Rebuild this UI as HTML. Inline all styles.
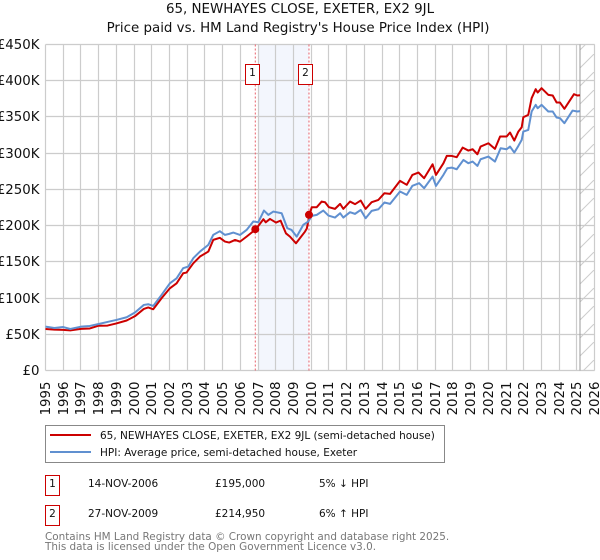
<!DOCTYPE html>
<html lang="en">
<head>
<meta charset="utf-8">
<title>65, NEWHAYES CLOSE, EXETER, EX2 9JL</title>
<style>
html,body{margin:0;padding:0;background:#fff;}
svg{display:block;}
text{font-family:"DejaVu Sans","Liberation Sans",sans-serif;fill:#111;}
.tick{font-size:13.33px;}
.title{font-size:13.4px;}
.leg{font-size:10.5px;}
.row{font-size:10.5px;}
.foot{font-size:10.4px;fill:#777;}
</style>
</head>
<body>
<svg id="chart" xmlns="http://www.w3.org/2000/svg" width="600" height="560" viewBox="0 0 600 560">
  <defs>
    <pattern id="hatch" patternUnits="userSpaceOnUse" width="18" height="18">
      <path d="M0 18L18 0" stroke="#ccc" stroke-width="1" fill="none"/>
    </pattern>
  </defs>
  <text class="title" x="300" y="13" text-anchor="middle">65, NEWHAYES CLOSE, EXETER, EX2 9JL</text>
  <text class="title" x="298" y="32" text-anchor="middle">Price paid vs. HM Land Registry's House Price Index (HPI)</text>
  <g id="plot"></g>

  <g>
    <rect x="45.5" y="425.5" width="399" height="37" fill="#fff" stroke="#888" stroke-width="1"/>
    <line x1="50" x2="91" y1="435" y2="435" stroke="#cc0000" stroke-width="2"/>
    <text class="leg" x="100" y="439">65, NEWHAYES CLOSE, EXETER, EX2 9JL (semi-detached house)</text>
    <line x1="50" x2="91" y1="452" y2="452" stroke="#6090d0" stroke-width="2"/>
    <text class="leg" x="100" y="456">HPI: Average price, semi-detached house, Exeter</text>
  </g>

  <g>
    <rect x="45.5" y="475.5" width="14" height="20" fill="#fff" stroke="#cc0000" stroke-width="1"/>
    <text class="row" x="52.5" y="487" text-anchor="middle">1</text>
    <text class="row" x="88" y="487">14-NOV-2006</text>
    <text class="row" x="215" y="487">£195,000</text>
    <text class="row" x="319" y="487">5% ↓ HPI</text>
  </g>
  <g>
    <rect x="45.5" y="505.5" width="14" height="20" fill="#fff" stroke="#cc0000" stroke-width="1"/>
    <text class="row" x="52.5" y="517" text-anchor="middle">2</text>
    <text class="row" x="88" y="517">27-NOV-2009</text>
    <text class="row" x="215" y="517">£214,950</text>
    <text class="row" x="319" y="517">6% ↑ HPI</text>
  </g>
  <text class="foot" x="45" y="540">Contains HM Land Registry data © Crown copyright and database right 2025.</text>
  <text class="foot" x="45" y="550">This data is licensed under the Open Government Licence v3.0.</text>
</svg>
<script>
const yearLabels = [1995,1996,1997,1998,1999,2000,2001,2002,2003,2004,2005,2006,2007,2008,2009,2010,2011,2012,2013,2014,2015,2016,2017,2018,2019,2020,2021,2022,2023,2024,2025,2026];
const valueTicks = [0,50,100,150,200,250,300,350,400,450];
const valueTickLabels = ["£0","£50K","£100K","£150K","£200K","£250K","£300K","£350K","£400K","£450K"];
const priceDates = [1995,1995.5,1996,1996.4,1997,1997.5,1998,1998.5,1999,1999.58,2000.05,2000.55,2000.8,2001.08,2001.55,2002.02,2002.4,2002.77,2002.96,2003.34,2003.72,2004.19,2004.47,2004.84,2005.13,2005.37,2005.7,2005.98,2006.35,2006.87,2007.3,2007.43,2007.67,2008.01,2008.27,2008.57,2008.8,2009.14,2009.65,2009.75,2009.9,2010.03,2010.31,2010.59,2010.78,2011,2011.34,2011.63,2011.81,2012.19,2012.47,2012.79,2013.07,2013.41,2013.79,2014.13,2014.45,2015.01,2015.39,2015.71,2016.05,2016.37,2016.85,2017.04,2017.46,2017.65,2017.93,2018.21,2018.55,2018.87,2019.11,2019.38,2019.56,2020,2020.37,2020.66,2021.03,2021.22,2021.46,2021.69,2021.88,2021.97,2022.25,2022.44,2022.67,2022.78,2023,2023.38,2023.63,2023.85,2024.04,2024.29,2024.83,2025.02,2025.17];
const pricePaid = [57.3,56.5,56,55.3,57.5,58,61.8,62,65,69,75,85,87,84.5,99.7,113.5,120.4,134.2,135.2,148,157.3,164.2,180.3,183.1,178,176.6,180.2,177.9,184.8,195,208.8,204.6,209.2,204.2,206.9,189.4,184.8,175.6,191.8,196,214.95,225.4,225.4,233.2,232.3,225.4,223.1,230,223.1,233.2,229.6,234.6,223.1,232.3,235.5,244.7,243.8,261.8,256.3,270,273.3,265.4,284.7,270,286,296.2,296.2,294.4,307.7,303.6,305.4,298.5,309.1,313.7,305.9,323,323,328.5,317.4,329.8,335.8,349.6,352.9,375.9,388.3,383.7,389.7,380.5,379.6,369.9,369.9,361.2,381.4,379.6,380];
const hpiDates = [1995,1995.5,1996,1996.4,1997,1997.5,1998,1998.5,1999,1999.58,2000.05,2000.55,2000.8,2001.08,2001.55,2002.02,2002.4,2002.77,2003.06,2003.34,2003.72,2004.19,2004.47,2004.84,2005.13,2005.37,2005.6,2005.98,2006.35,2006.73,2007.01,2007.33,2007.58,2007.86,2008.33,2008.65,2008.89,2009.18,2009.55,2009.83,2010.03,2010.31,2010.68,2010.97,2011.34,2011.63,2011.81,2012.19,2012.47,2012.79,2013.07,2013.41,2013.79,2014.13,2014.45,2015.01,2015.39,2015.71,2016.09,2016.37,2016.85,2017.04,2017.46,2017.68,2017.93,2018.21,2018.59,2018.87,2019.11,2019.38,2019.56,2020,2020.37,2020.69,2021.03,2021.22,2021.46,2021.69,2021.88,2021.97,2022.25,2022.44,2022.67,2022.78,2023,2023.38,2023.63,2023.85,2024.04,2024.29,2024.75,2025.02,2025.17];
const hpiIndex = [60.5,58.7,60,57.3,60.5,61.5,64.2,67,69.8,73.5,80,90.5,91.5,89.1,104.3,120.4,127.3,141.2,143.5,155,164.2,173.4,187.2,192.3,187.2,188.6,190.4,187.1,194,205.6,204.6,220.8,214.8,219.4,217.1,196.4,194,184.8,201,205.6,213.4,214.8,220.8,213.9,211.1,217.1,211.1,218.5,216.2,221.7,210.2,220.3,222.6,231.9,230,247.1,242.4,254.9,258.6,251.6,267.7,254.8,270,279.2,280.1,277.8,290.7,286.1,288.4,282.4,291.6,295.3,288.4,306.8,305.4,309.1,300.8,310,318.3,329.8,332.1,357.5,366.7,362,366.7,357.5,357.5,349.2,348.3,341.4,358.8,357.5,358];
const saleDates = [2006.87,2009.9];
const saleValues = [195,214.95];
const saleNumbers = ["1","2"];
const forecastStart = 2025.17;

const NS = "http://www.w3.org/2000/svg";
const plot = document.getElementById("plot");
const xLeft = 45.5, xRight = 594.7, yBottom = 370.5, yTop = 44.5;
function xScale(d){ return xLeft + (d - 1995) / (2026 - 1995) * (xRight - xLeft); }
function yScale(v){ return yBottom - v / 450 * (yBottom - yTop); }
function make(tag, attrs){
  const el = document.createElementNS(NS, tag);
  for (const k in attrs) el.setAttribute(k, attrs[k]);
  plot.appendChild(el);
  return el;
}
function pathFrom(dates, values){
  return dates.map((d,i)=>(i?"L":"M")+xScale(d).toFixed(2)+" "+yScale(values[i]).toFixed(2)).join("");
}

const bandLeft = xScale(saleDates[0]) + 2.4;
const bandRight = xScale(saleDates[1]) - 0.7;
const band = make("rect",{x:bandLeft,y:yTop,width:bandRight-bandLeft,height:yBottom-yTop,fill:"#f3f6fd"});



const hatch = make("rect",{x:xScale(forecastStart),y:yTop,width:xRight-xScale(forecastStart),height:yBottom-yTop,fill:"url(#hatch)"});



valueTicks.forEach((v,i)=>{
  const y = Math.round(yScale(v)-0.5)+0.5;
  const g = make("line",{x1:xLeft,x2:xRight,y1:y,y2:y,stroke:"#ccc","stroke-width":1.2});
  
  
  const t = make("text",{x:39.5,y:y+4.5,"text-anchor":"end",class:"tick"});
  t.textContent = valueTickLabels[i];
  
  
});
yearLabels.forEach(yr=>{
  const x = Math.round(xScale(yr)-0.5)+0.5;
  const g = make("line",{x1:x,x2:x,y1:yTop,y2:yBottom,stroke:"#ccc","stroke-width":1.2});
  
  
  const t = make("text",{x:0,y:0,"text-anchor":"end",class:"tick",transform:"translate("+(x+4.5)+" 381.5) rotate(-90)"});
  t.textContent = yr;
  
  
});

const endLine = make("line",{x1:xScale(forecastStart),x2:xScale(forecastStart),y1:yTop,y2:yBottom,stroke:"#999","stroke-width":1});



saleDates.forEach(d=>{
  const l = make("line",{x1:xScale(d)-0.5,x2:xScale(d)-0.5,y1:yTop,y2:yBottom,stroke:"#e8606a","stroke-width":1,"stroke-dasharray":"2 2"});
  
  
});

const priceLine = make("path",{d:pathFrom(priceDates,pricePaid),fill:"none",stroke:"#cc0000","stroke-width":2,"stroke-linejoin":"round"});



const hpiLine = make("path",{d:pathFrom(hpiDates,hpiIndex),fill:"none",stroke:"#6090d0","stroke-width":2,"stroke-linejoin":"round"});



saleDates.forEach((d,i)=>{
  const c = make("circle",{cx:xScale(d)-0.5,cy:yScale(saleValues[i]),r:4,fill:"#cc0000"});
  
  
  const cx = Math.round(xScale(d));
  const r = make("rect",{x:cx-10.5,y:64.5,width:14,height:20,fill:"#fff",stroke:"#cc0000","stroke-width":1});
  
  
  const t = make("text",{x:cx-3.5,y:76,"text-anchor":"middle",class:"row"});
  t.textContent = saleNumbers[i];
  
  
});
</script>
</body>
</html>
